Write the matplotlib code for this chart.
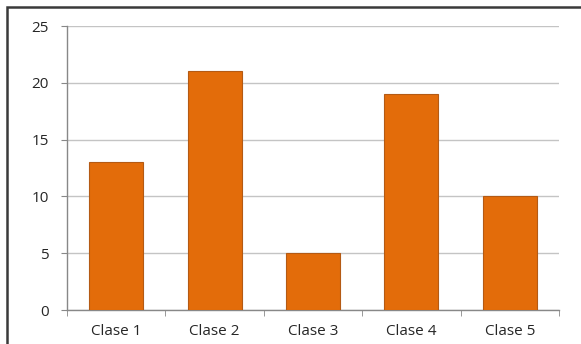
import matplotlib

matplotlib.use("Agg")
import matplotlib.pyplot as plt
import numpy as np
from matplotlib.patches import Rectangle

categories = ["Clase 1", "Clase 2", "Clase 3", "Clase 4", "Clase 5"]
values = [13, 21, 5, 19, 10]
y_ticks = [0, 5, 10, 15, 20, 25]

W, H = 581, 344
fig = plt.figure(figsize=(W / 100, H / 100), dpi=100)
fig.patch.set_facecolor("white")

# outer frame (only top/left edges visible in the crop)
fig.patches.append(
    Rectangle((7 / W, -0.1), 1.2, 1 - 7 / H + 0.1, transform=fig.transFigure,
              fill=False, edgecolor="#3a3a3a", linewidth=1.8)
)

ax = fig.add_axes([67 / W, 1 - 310 / H, (559 - 67) / W, (310 - 26) / H])

x = np.arange(len(categories))
ax.bar(x, values, width=0.55, color="#E36C0A", edgecolor="#B45A14", linewidth=0.8, zorder=3)

ax.set_xlim(-0.5, len(categories) - 0.5)
ax.set_ylim(0, 25)
ax.set_yticks(y_ticks)
ax.yaxis.grid(True, color="#c4c4c4", linewidth=1.0, zorder=0)
ax.set_axisbelow(True)

ax.set_xticks(x)
ax.set_xticklabels(categories)
ax.set_xticks(np.arange(-0.5, len(categories)), minor=True)
ax.tick_params(axis="x", which="major", length=0, pad=10, labelsize=11, colors="#262626")
ax.tick_params(axis="x", which="minor", length=4, color="#888888", direction="out")
ax.tick_params(axis="y", length=4, color="#888888", pad=9, labelsize=11, labelcolor="#262626")

for side in ("top", "right"):
    ax.spines[side].set_visible(False)
for side in ("left", "bottom"):
    ax.spines[side].set_color("#888888")
    ax.spines[side].set_linewidth(1.0)

for lbl in ax.get_xticklabels() + ax.get_yticklabels():
    lbl.set_fontfamily("Open Sans")

fig.savefig("out.png", dpi=100)
